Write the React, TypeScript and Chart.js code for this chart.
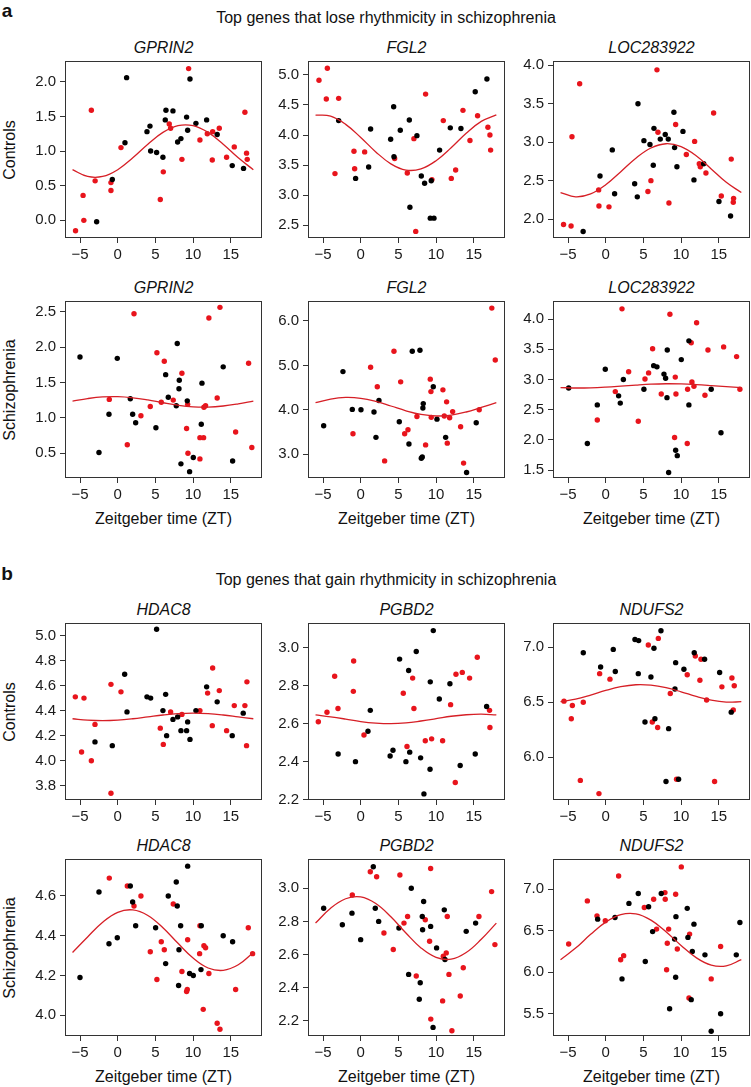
import React, { useEffect, useRef } from 'react';
import { Chart, registerables } from 'chart.js';

Chart.register(...registerables);

const FONT = '"Liberation Sans", Arial, Helvetica, sans-serif';

// ---------- shared axis data ----------
const ztTicks = [-5, 0, 5, 10, 15];
const ztRange = [-7, 19.15];
const fitZT = [-6, -4, -2, 0, 2, 4, 6, 8, 10, 12, 14, 16, 18];

// ---------- a: controls ----------
const gprin2CtrlBlack = [[-2.8,-0.02],[-0.72,0.59],[0.96,1.12],[1.18,2.06],[3.88,1.28],[4.28,1.36],[4.37,1.0],[5.16,0.98],[6.0,0.91],[6.31,1.45],[6.4,1.59],[7.33,1.58],[7.95,1.13],[8.39,1.18],[9.14,1.49],[9.28,1.30],[9.59,2.04],[10.38,1.40],[11.8,1.45],[13.2,1.24],[15.2,0.79],[16.7,0.75]];
const gprin2CtrlRed = [[-5.6,-0.15],[-4.6,0.36],[-4.5,0.0],[-3.5,1.59],[-3.0,0.57],[-0.9,0.545],[-0.9,0.43],[0.43,1.05],[5.65,0.30],[6.05,0.70],[6.84,1.39],[7.02,1.33],[8.52,0.88],[9.41,2.19],[10.91,1.16],[11.89,1.25],[12.55,0.87],[12.6,1.28],[13.48,1.33],[14.45,0.91],[15.47,1.06],[16.88,1.56],[17.1,0.97],[17.19,0.88]];
const gprin2CtrlFit = [0.731,0.633,0.633,0.731,0.902,1.098,1.269,1.367,1.367,1.269,1.098,0.902,0.731];
const gprin2CtrlTicks = [0, 0.5, 1, 1.5, 2];

const fgl2CtrlBlack = [[-2.93,4.24],[-0.68,3.28],[1.05,3.47],[1.31,4.10],[3.97,3.93],[4.37,4.47],[4.41,3.64],[5.25,4.08],[6.45,4.25],[6.53,2.80],[7.46,3.99],[8.04,3.32],[8.48,3.20],[9.23,2.62],[9.36,3.24],[9.72,2.62],[10.47,3.75],[11.89,4.12],[13.3,4.11],[15.2,4.72],[16.75,4.93]];
const fgl2CtrlRed = [[-5.54,4.91],[-4.57,4.60],[-4.43,5.11],[-3.42,3.36],[-2.93,4.61],[-0.9,3.73],[-0.81,3.44],[0.52,3.72],[4.5,3.61],[6.18,3.37],[7.06,3.94],[7.3,2.40],[8.61,4.68],[9.45,3.26],[10.96,4.24],[12.02,3.28],[12.6,3.42],[13.57,4.41],[14.5,3.91],[15.51,4.32],[16.88,4.13],[17.15,4.0],[17.24,3.75]];
const fgl2CtrlFit = [4.332,4.314,4.177,3.960,3.720,3.522,3.418,3.438,3.574,3.790,4.030,4.228,4.336];
const fgl2CtrlTicks = [2.5, 3, 3.5, 4, 4.5, 5];

const locCtrlBlack = [[-3.0,1.84],[-0.76,2.56],[0.87,2.90],[1.18,2.33],[3.84,2.46],[4.19,2.29],[4.28,3.50],[5.07,3.02],[5.87,2.97],[6.31,2.70],[6.4,3.18],[7.24,3.04],[7.9,3.10],[8.3,3.04],[9.05,3.39],[9.14,2.93],[9.45,2.68],[10.25,3.14],[11.71,2.51],[13.0,2.72],[15.03,2.23],[16.57,2.04]];
const locCtrlRed = [[-5.6,1.93],[-4.6,1.91],[-4.48,3.07],[-3.46,3.76],[-0.94,2.38],[-0.9,2.17],[0.43,2.16],[5.6,2.36],[6.0,2.50],[6.8,3.94],[6.93,3.13],[8.39,2.21],[9.28,3.23],[10.7,2.84],[11.8,3.01],[12.42,2.72],[12.55,2.68],[13.3,2.60],[14.32,3.38],[15.34,2.30],[16.66,2.78],[16.93,2.22],[16.97,2.27]];
const locCtrlFit = [2.346,2.290,2.328,2.447,2.617,2.792,2.924,2.980,2.942,2.823,2.653,2.478,2.346];
const locCtrlTicks = [2, 2.5, 3, 3.5, 4];

// ---------- a: schizophrenia ----------
const gprin2SczBlack = [[-5.01,1.86],[-2.49,0.51],[-1.16,1.05],[-0.06,1.84],[1.67,1.27],[1.98,1.05],[2.38,0.93],[5.07,0.86],[6.36,1.61],[6.71,1.29],[7.77,1.17],[7.9,2.05],[8.13,1.41],[8.17,1.53],[8.39,0.35],[9.23,1.24],[9.54,0.24],[10.03,0.44],[11.09,0.91],[11.18,1.49],[14.0,1.72],[15.25,0.39]];
const gprin2SczRed = [[-1.12,1.26],[1.27,0.62],[2.16,2.47],[3.08,1.03],[4.32,1.16],[5.2,1.92],[5.78,1.22],[6.18,1.80],[7.37,1.25],[8.52,1.63],[9.14,0.85],[9.28,1.19],[9.32,0.50],[10.91,0.42],[10.91,0.72],[11.4,0.72],[11.44,1.15],[11.66,1.17],[12.1,2.41],[13.2,1.28],[13.57,2.56],[15.65,0.80],[17.37,1.77],[17.8,0.58]];
const gprin2SczFit = [1.237,1.272,1.295,1.299,1.283,1.252,1.213,1.178,1.155,1.151,1.167,1.198,1.237];
const gprin2SczTicks = [0.5, 1, 1.5, 2, 2.5];

const fgl2SczBlack = [[-4.92,3.64],[-2.36,4.86],[-1.12,4.01],[0.03,4.0],[1.76,3.95],[2.02,3.38],[2.42,4.21],[5.12,3.73],[6.4,3.23],[6.84,5.32],[7.86,5.34],[8.04,2.91],[8.17,2.94],[8.3,4.14],[8.25,4.04],[9.63,4.52],[10.12,3.79],[11.27,3.38],[14.05,2.59],[15.33,3.71]];
const fgl2SczRed = [[-1.03,3.46],[1.31,4.96],[2.2,4.52],[3.17,2.85],[4.41,5.32],[5.3,4.63],[5.83,3.46],[6.27,3.55],[7.46,3.85],[8.61,3.21],[9.23,4.69],[9.32,4.41],[9.36,3.83],[10.91,4.45],[11.09,3.86],[11.4,4.18],[11.49,3.25],[11.8,3.82],[12.2,3.96],[13.26,3.62],[13.65,2.80],[15.73,4.0],[17.4,6.29],[17.86,5.12]];
const fgl2SczFit = [4.160,4.243,4.279,4.260,4.189,4.086,3.979,3.897,3.861,3.880,3.951,4.054,4.160];
const fgl2SczTicks = [3, 4, 5, 6];

const locSczBlack = [[-4.92,2.86],[-2.44,1.94],[-1.12,2.58],[-0.06,3.17],[1.71,2.73],[1.93,2.61],[2.34,3.0],[5.07,2.84],[6.36,3.23],[6.8,3.21],[7.73,3.09],[7.95,3.02],[8.13,2.70],[8.17,3.49],[8.35,1.46],[9.28,1.83],[9.5,1.74],[10.03,3.33],[11.04,3.64],[11.04,2.58],[14.0,2.84],[15.3,2.12]];
const locSczRed = [[-1.12,2.33],[1.27,2.80],[2.16,4.17],[3.04,3.13],[4.32,2.31],[5.21,3.01],[5.69,3.11],[6.22,3.51],[7.37,2.76],[8.52,4.08],[9.14,2.04],[9.23,3.04],[9.32,2.76],[10.82,1.94],[10.87,2.84],[11.35,3.61],[11.44,2.96],[11.71,2.89],[12.06,3.94],[13.17,2.74],[13.57,3.49],[15.65,3.54],[17.37,3.38],[17.81,2.84]];
const locSczFit = [2.867,2.860,2.863,2.874,2.890,2.908,2.923,2.930,2.927,2.916,2.900,2.882,2.867];
const locSczTicks = [1.5, 2, 2.5, 3, 3.5, 4];

// ---------- b: controls ----------
const hdac8CtrlBlack = [[-3.02,4.15],[-0.72,4.12],[0.92,4.69],[1.23,4.39],[3.88,4.51],[4.37,4.50],[5.16,5.05],[6.0,4.40],[6.36,4.53],[6.49,4.20],[7.33,4.33],[7.95,4.35],[8.39,4.24],[9.14,4.24],[9.28,4.31],[9.59,4.17],[10.38,4.40],[11.8,4.59],[13.2,4.47],[15.2,4.20],[16.66,4.38]];
const hdac8CtrlRed = [[-5.63,4.51],[-4.8,4.07],[-4.48,4.50],[-3.5,4.0],[-3.02,4.29],[-0.9,4.61],[-0.9,3.74],[0.43,4.55],[5.65,4.26],[6.05,4.13],[7.02,4.39],[8.52,4.37],[10.91,4.40],[11.93,4.54],[12.55,4.28],[12.6,4.74],[13.48,4.56],[14.45,4.24],[15.47,4.44],[16.88,4.44],[17.1,4.12],[17.15,4.63]];
const hdac8CtrlFit = [4.335,4.324,4.320,4.324,4.335,4.350,4.365,4.376,4.380,4.376,4.365,4.350,4.335];
const hdac8CtrlTicks = [3.8, 4, 4.2, 4.4, 4.6, 4.8, 5];

const pgbd2CtrlBlack = [[-3.0,2.44],[-0.7,2.40],[0.96,2.56],[1.27,2.67],[3.9,2.43],[4.28,2.46],[5.16,2.94],[6.0,2.40],[6.36,2.88],[6.5,2.45],[7.37,2.98],[7.95,2.42],[8.39,2.23],[9.2,2.36],[9.23,2.82],[9.63,3.09],[10.43,2.73],[11.84,2.81],[13.2,2.38],[15.2,2.44],[16.71,2.69]];
const pgbd2CtrlRed = [[-5.63,2.61],[-4.48,2.66],[-3.46,2.85],[-3.02,2.68],[-0.98,2.77],[-0.94,2.93],[0.43,2.54],[5.65,2.76],[6.14,2.48],[6.89,2.84],[7.06,2.68],[8.57,2.51],[9.41,2.52],[10.87,2.51],[11.93,2.70],[12.55,2.29],[12.64,2.86],[13.48,2.87],[14.45,2.84],[15.47,2.95],[17.1,2.67],[17.15,2.58]];
const pgbd2CtrlFit = [2.646,2.636,2.624,2.611,2.603,2.600,2.604,2.614,2.626,2.639,2.647,2.650,2.646];
const pgbd2CtrlTicks = [2.2, 2.4, 2.6, 2.8, 3];

const ndufs2CtrlBlack = [[-2.98,6.95],[-0.68,6.82],[1.0,6.98],[1.27,6.78],[3.88,7.07],[4.32,6.76],[4.37,7.06],[5.21,6.32],[6.0,6.73],[6.4,6.99],[6.53,6.35],[7.33,7.15],[8.0,5.78],[8.35,6.26],[9.19,6.62],[9.28,6.86],[9.67,5.80],[10.38,6.80],[11.75,6.95],[13.12,6.89],[15.12,6.77],[16.66,6.41]];
const ndufs2CtrlRed = [[-5.54,6.51],[-4.57,6.35],[-4.43,6.47],[-3.37,5.79],[-2.98,6.50],[-0.9,5.67],[-0.81,6.76],[0.56,6.71],[5.65,7.02],[6.18,6.32],[6.89,6.27],[6.98,7.08],[8.57,6.58],[9.4,5.80],[10.82,6.75],[11.89,6.92],[12.5,6.70],[12.64,6.89],[13.39,6.52],[14.45,5.78],[15.42,6.64],[16.75,6.72],[16.93,6.43],[17.06,6.65]];
const ndufs2CtrlFit = [6.505,6.528,6.565,6.607,6.641,6.659,6.655,6.632,6.595,6.553,6.519,6.501,6.505];
const ndufs2CtrlTicks = [6, 6.5, 7];

// ---------- b: schizophrenia ----------
const hdac8SczBlack = [[-5.01,4.19],[-2.49,4.62],[-1.16,4.36],[-0.06,4.39],[1.67,4.65],[1.98,4.57],[2.38,4.45],[5.03,4.44],[6.36,4.26],[6.71,4.60],[7.77,4.67],[7.9,4.55],[8.08,4.15],[8.13,4.33],[8.35,4.45],[9.28,4.75],[9.54,4.21],[10.03,4.20],[11.05,4.23],[11.09,4.45],[14.0,4.40],[15.25,4.37]];
const hdac8SczRed = [[-1.12,4.69],[1.27,4.65],[2.16,4.55],[3.08,4.60],[4.32,4.32],[5.2,4.18],[5.78,4.37],[6.18,4.33],[7.37,4.56],[8.52,4.22],[9.14,4.12],[9.23,4.13],[9.28,4.38],[10.87,4.31],[10.91,4.45],[11.35,4.03],[11.44,4.35],[11.66,4.34],[12.1,4.21],[13.2,3.96],[13.57,3.93],[15.65,4.13],[17.33,4.44],[17.9,4.31]];
const hdac8SczFit = [4.316,4.394,4.468,4.518,4.530,4.502,4.440,4.362,4.288,4.238,4.226,4.254,4.316];
const hdac8SczTicks = [4, 4.2, 4.4, 4.6];

const pgbd2SczBlack = [[-4.92,2.88],[-2.44,2.78],[-1.16,2.85],[-0.01,2.69],[1.67,3.13],[1.93,2.88],[2.38,2.80],[5.07,2.76],[6.36,2.48],[6.71,3.0],[7.77,2.33],[7.9,2.43],[8.17,2.83],[8.21,2.75],[8.35,2.92],[9.28,2.77],[9.6,2.16],[10.07,2.64],[11.09,2.87],[11.18,2.57],[14.0,2.74],[15.25,2.79]];
const pgbd2SczRed = [[-1.12,2.96],[1.27,3.10],[2.11,3.07],[3.08,2.73],[4.32,2.63],[5.2,3.08],[5.74,2.79],[6.22,2.83],[7.37,2.47],[8.57,2.81],[9.14,2.68],[9.28,3.12],[9.3,2.21],[10.87,2.32],[10.96,2.59],[11.35,2.61],[11.49,2.83],[11.71,2.48],[12.1,2.14],[13.21,2.35],[13.61,2.52],[15.69,2.83],[17.37,2.98],[17.81,2.66]];
const pgbd2SczFit = [2.790,2.880,2.937,2.948,2.908,2.828,2.730,2.640,2.583,2.572,2.612,2.692,2.790];
const pgbd2SczTicks = [2.2, 2.4, 2.6, 2.8, 3];

const ndufs2SczBlack = [[-1.07,6.64],[1.23,6.66],[2.16,5.92],[3.08,6.83],[4.32,6.95],[5.25,6.13],[5.69,6.79],[6.22,6.49],[7.37,6.95],[8.48,5.56],[9.14,6.40],[9.28,5.94],[9.32,6.67],[10.82,6.77],[10.91,6.42],[11.35,5.67],[11.49,6.25],[11.71,6.58],[13.17,6.21],[14.0,5.29],[15.25,5.50],[17.33,6.21],[17.81,6.60]];
const ndufs2SczRed = [[-4.92,6.34],[-2.44,6.86],[-1.16,6.68],[-0.06,6.62],[1.71,7.16],[1.98,6.15],[2.38,6.20],[5.12,6.78],[6.36,6.88],[6.75,6.52],[7.86,6.96],[7.9,6.88],[8.08,6.03],[8.17,6.35],[8.35,6.52],[9.28,6.94],[9.5,6.28],[10.03,7.27],[11.05,5.69],[11.13,6.46],[14.0,5.92],[15.25,6.31]];
const ndufs2SczFit = [6.152,6.291,6.457,6.604,6.694,6.703,6.628,6.489,6.323,6.176,6.086,6.077,6.152];
const ndufs2SczTicks = [5.5, 6, 6.5, 7];

// ---------- panel table ----------
type Pt = number[];
interface PanelDef {
  gene: string; row: number; col: number;
  yMin: number; yMax: number; yTicks: number[];
  black: Pt[]; red: Pt[]; fit: number[];
}

const panels: PanelDef[] = [
  { gene: 'GPRIN2', row: 0, col: 0, yMin: -0.255, yMax: 2.30, yTicks: gprin2CtrlTicks, black: gprin2CtrlBlack, red: gprin2CtrlRed, fit: gprin2CtrlFit },
  { gene: 'FGL2', row: 0, col: 1, yMin: 2.29, yMax: 5.23, yTicks: fgl2CtrlTicks, black: fgl2CtrlBlack, red: fgl2CtrlRed, fit: fgl2CtrlFit },
  { gene: 'LOC283922', row: 0, col: 2, yMin: 1.755, yMax: 4.055, yTicks: locCtrlTicks, black: locCtrlBlack, red: locCtrlRed, fit: locCtrlFit },
  { gene: 'GPRIN2', row: 1, col: 0, yMin: 0.15, yMax: 2.65, yTicks: gprin2SczTicks, black: gprin2SczBlack, red: gprin2SczRed, fit: gprin2SczFit },
  { gene: 'FGL2', row: 1, col: 1, yMin: 2.465, yMax: 6.45, yTicks: fgl2SczTicks, black: fgl2SczBlack, red: fgl2SczRed, fit: fgl2SczFit },
  { gene: 'LOC283922', row: 1, col: 2, yMin: 1.37, yMax: 4.30, yTicks: locSczTicks, black: locSczBlack, red: locSczRed, fit: locSczFit },
  { gene: 'HDAC8', row: 2, col: 0, yMin: 3.686, yMax: 5.10, yTicks: hdac8CtrlTicks, black: hdac8CtrlBlack, red: hdac8CtrlRed, fit: hdac8CtrlFit },
  { gene: 'PGBD2', row: 2, col: 1, yMin: 2.198, yMax: 3.13, yTicks: pgbd2CtrlTicks, black: pgbd2CtrlBlack, red: pgbd2CtrlRed, fit: pgbd2CtrlFit },
  { gene: 'NDUFS2', row: 2, col: 2, yMin: 5.612, yMax: 7.22, yTicks: ndufs2CtrlTicks, black: ndufs2CtrlBlack, red: ndufs2CtrlRed, fit: ndufs2CtrlFit },
  { gene: 'HDAC8', row: 3, col: 0, yMin: 3.896, yMax: 4.786, yTicks: hdac8SczTicks, black: hdac8SczBlack, red: hdac8SczRed, fit: hdac8SczFit },
  { gene: 'PGBD2', row: 3, col: 1, yMin: 2.108, yMax: 3.177, yTicks: pgbd2SczTicks, black: pgbd2SczBlack, red: pgbd2SczRed, fit: pgbd2SczFit },
  { gene: 'NDUFS2', row: 3, col: 2, yMin: 5.232, yMax: 7.365, yTicks: ndufs2SczTicks, black: ndufs2SczBlack, red: ndufs2SczRed, fit: ndufs2SczFit },
];

const rowLabels = ['Controls', 'Schizophrenia', 'Controls', 'Schizophrenia'];
const sectionTitles = ['Top genes that lose rhythmicity in schizophrenia', 'Top genes that gain rhythmicity in schizophrenia'];
const sectionLetters = ['a', 'b'];
const xAxisTitle = 'Zeitgeber time (ZT)';

// ---------- layout (pixels) ----------
const COL_LEFT = [65, 308, 553];
const ROW_TOP = [61, 301, 623, 859];
const BOX_W = 197;
const BOX_H = 177;
const Y_AXIS_W = 60;
const X_AXIS_H = 30;
const PAD_TOP = 12;
const PAD_RIGHT = 6;
const CW = Y_AXIS_W + BOX_W + PAD_RIGHT;
const CH = PAD_TOP + BOX_H + X_AXIS_H;

const RED_PT = '#e8141c';
const RED_LINE = '#d61f26';
const AXIS_COL = '#333';

const boxPlugin = {
  id: 'boxFrame',
  afterDatasetsDraw(chart: any) {
    const { ctx, chartArea } = chart;
    const l = Math.round(chartArea.left), t = Math.round(chartArea.top);
    const r = Math.round(chartArea.right), b = Math.round(chartArea.bottom);
    ctx.save();
    ctx.strokeStyle = AXIS_COL;
    ctx.lineWidth = 1;
    ctx.strokeRect(l + 0.5, t + 0.5, r - l - 1, b - t - 1);
    ctx.restore();
  },
};

const fmtX = (v: number) => (v < 0 ? '\u2212' + Math.abs(v) : String(v));

function Panel({ p }: { p: PanelDef }) {
  const ref = useRef<HTMLCanvasElement>(null);
  useEffect(() => {
    const chart = new Chart(ref.current as HTMLCanvasElement, {
      type: 'scatter',
      data: {
        datasets: [
          {
            data: fitZT.map((x, i) => ({ x, y: p.fit[i] })),
            showLine: true,
            borderColor: RED_LINE,
            borderWidth: 1.3,
            pointRadius: 0,
            tension: 0.4,
            fill: false,
          } as any,
          {
            data: p.black.map(([x, y]) => ({ x, y })),
            backgroundColor: '#000',
            borderWidth: 0,
            pointRadius: 2.7,
            pointBorderWidth: 0,
          },
          {
            data: p.red.map(([x, y]) => ({ x, y })),
            backgroundColor: RED_PT,
            borderWidth: 0,
            pointRadius: 2.7,
            pointBorderWidth: 0,
          },
        ],
      },
      options: {
        animation: false,
        responsive: false,
        devicePixelRatio: 1,
        events: [],
        layout: { padding: { left: 0, right: PAD_RIGHT, top: PAD_TOP, bottom: 0 } },
        plugins: { legend: { display: false }, tooltip: { enabled: false }, title: { display: false } },
        scales: {
          x: {
            type: 'linear',
            min: ztRange[0],
            max: ztRange[1],
            afterBuildTicks: (s: any) => { s.ticks = ztTicks.map((v) => ({ value: v })); },
            afterFit: (s: any) => { s.height = X_AXIS_H; s.paddingLeft = 0; s.paddingRight = 0; },
            grid: { display: true, drawOnChartArea: false, drawTicks: true, tickLength: 5, color: AXIS_COL, lineWidth: 1 },
            border: { display: false },
            ticks: {
              autoSkip: false, maxRotation: 0, minRotation: 0, padding: 3,
              color: '#1a1a1a', font: { family: FONT, size: 15 },
              callback: (v: any) => fmtX(Number(v)),
            },
          },
          y: {
            type: 'linear',
            min: p.yMin,
            max: p.yMax,
            afterBuildTicks: (s: any) => { s.ticks = p.yTicks.map((v) => ({ value: v })); },
            afterFit: (s: any) => { s.width = Y_AXIS_W; s.paddingTop = 0; s.paddingBottom = 0; },
            grid: { display: true, drawOnChartArea: false, drawTicks: true, tickLength: 5, color: AXIS_COL, lineWidth: 1 },
            border: { display: false },
            ticks: {
              autoSkip: false, padding: 4,
              color: '#1a1a1a', font: { family: FONT, size: 15 },
              callback: (v: any) => Number(v).toFixed(1),
            },
          },
        },
      } as any,
      plugins: [boxPlugin],
    });
    return () => chart.destroy();
  }, [p]);
  const left = COL_LEFT[p.col] - Y_AXIS_W;
  const top = ROW_TOP[p.row] - PAD_TOP;
  return (
    <canvas
      ref={ref}
      width={CW}
      height={CH}
      style={{ position: 'absolute', left, top, width: CW, height: CH }}
    />
  );
}

function Txt({ x, y, children, style }: { x: number; y: number; children: React.ReactNode; style?: React.CSSProperties }) {
  return (
    <div
      style={{
        position: 'absolute', left: x, top: y, transform: 'translate(-50%, -50%)',
        whiteSpace: 'nowrap', fontFamily: FONT, fontSize: 16, color: '#111', lineHeight: 1,
        ...style,
      }}
    >
      {children}
    </div>
  );
}

export default function App() {
  const sectionY = [18, 580];
  const letterY = [10, 573];
  return (
    <div style={{ position: 'absolute', left: 0, top: 0, width: 751, height: 1087, overflow: 'hidden', background: '#fff' }}>
      {sectionTitles.map((t, i) => (
        <Txt key={'s' + i} x={386} y={sectionY[i]}>{t}</Txt>
      ))}
      {sectionLetters.map((t, i) => (
        <Txt key={'l' + i} x={7} y={letterY[i]} style={{ fontWeight: 'bold', fontSize: 19 }}>{t}</Txt>
      ))}
      {rowLabels.map((t, r) => (
        <Txt key={'r' + r} x={10} y={ROW_TOP[r] + BOX_H / 2} style={{ transform: 'translate(-50%, -50%) rotate(-90deg)' }}>{t}</Txt>
      ))}
      {panels.map((p, i) => (
        <Txt key={'g' + i} x={COL_LEFT[p.col] + BOX_W / 2} y={ROW_TOP[p.row] - 13} style={{ fontStyle: 'italic' }}>{p.gene}</Txt>
      ))}
      {[1, 3].map((r) =>
        COL_LEFT.map((cl, c) => (
          <Txt key={'x' + r + c} x={cl + BOX_W / 2} y={ROW_TOP[r] + BOX_H + 41}>{xAxisTitle}</Txt>
        ))
      )}
      {panels.map((p, i) => (
        <Panel key={'p' + i} p={p} />
      ))}
    </div>
  );
}
